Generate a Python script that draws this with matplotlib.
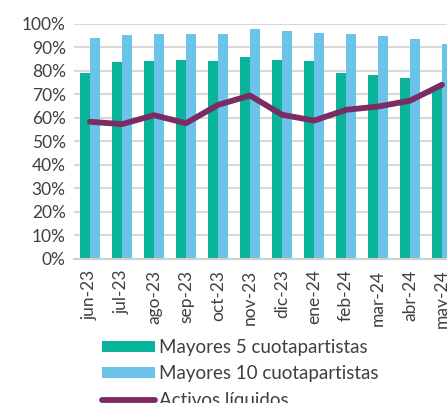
import numpy as np
import matplotlib.pyplot as plt

plt.rcParams['font.family'] = ['Lato', 'DejaVu Sans']

# Datos mensuales de concentración
meses = ['jun-23', 'jul-23', 'ago-23', 'sep-23', 'oct-23', 'nov-23',
         'dic-23', 'ene-24', 'feb-24', 'mar-24', 'abr-24', 'may-24']
mayores_5 = [79.3, 84.0, 84.3, 84.5, 84.3, 86.0, 84.8, 84.3, 78.9, 78.1, 77.1, 73.0]
mayores_10 = [93.9, 95.4, 95.6, 95.9, 95.6, 97.7, 97.0, 96.3, 95.9, 94.9, 93.6, 91.6]
activos_liquidos = [58.3, 57.3, 61.1, 57.7, 65.5, 69.5, 61.3, 58.8, 63.4, 64.8, 67.3, 74.1]

verde = '#0BB39A'
celeste = '#6CC3EA'
morado = '#7B2C62'
gris_texto = '#404040'

fig = plt.figure(figsize=(4.47, 4.03), dpi=100)
# el eje se extiende más allá del borde derecho de la figura
ax = fig.add_axes([74 / 447, 1 - 258.5 / 403, 384 / 447, 234.5 / 403])

x = np.arange(len(meses))
ancho = 0.3
b5 = ax.bar(x - ancho / 2, np.array(mayores_5) / 100, width=ancho, color=verde,
            label='Mayores 5 cuotapartistas', zorder=2)
b10 = ax.bar(x + ancho / 2, np.array(mayores_10) / 100, width=ancho, color=celeste,
             label='Mayores 10 cuotapartistas', zorder=2)
linea, = ax.plot(x, np.array(activos_liquidos) / 100, color=morado, linewidth=4.2,
                 solid_capstyle='round', solid_joinstyle='round',
                 label='Activos líquidos', zorder=3)

# Ejes y grilla
ax.set_xlim(-0.5, len(meses) - 0.5)
ax.set_ylim(0, 1.0)
ax.set_yticks(np.arange(0, 1.01, 0.1))
ax.set_yticklabels([f'{int(round(v * 100))}%' for v in np.arange(0, 1.01, 0.1)])
ax.set_xticks(x)
ax.set_xticklabels(meses, rotation=90)
ax.tick_params(axis='both', length=0, labelsize=12.5, colors=gris_texto)
ax.tick_params(axis='y', pad=6)
ax.tick_params(axis='x', pad=8)
ax.grid(axis='y', color='#D9D9D9', linewidth=1.5, zorder=0)
ax.set_axisbelow(True)
for lado in ['top', 'right', 'left']:
    ax.spines[lado].set_visible(False)
ax.spines['bottom'].set_color('#D0D0D0')
ax.spines['bottom'].set_linewidth(1.5)

# Leyenda debajo del gráfico
fig.legend([b5, b10, linea],
           ['Mayores 5 cuotapartistas', 'Mayores 10 cuotapartistas', 'Activos líquidos'],
           loc='upper left', bbox_to_anchor=(102 / 447, 1 - 339 / 403),
           frameon=False, fontsize=13.5, labelcolor=gris_texto,
           handlelength=2.8, handleheight=0.5, handletextpad=0.25,
           borderpad=0, borderaxespad=0, labelspacing=0.5)

plt.savefig('out.png', dpi=100)
plt.close()
